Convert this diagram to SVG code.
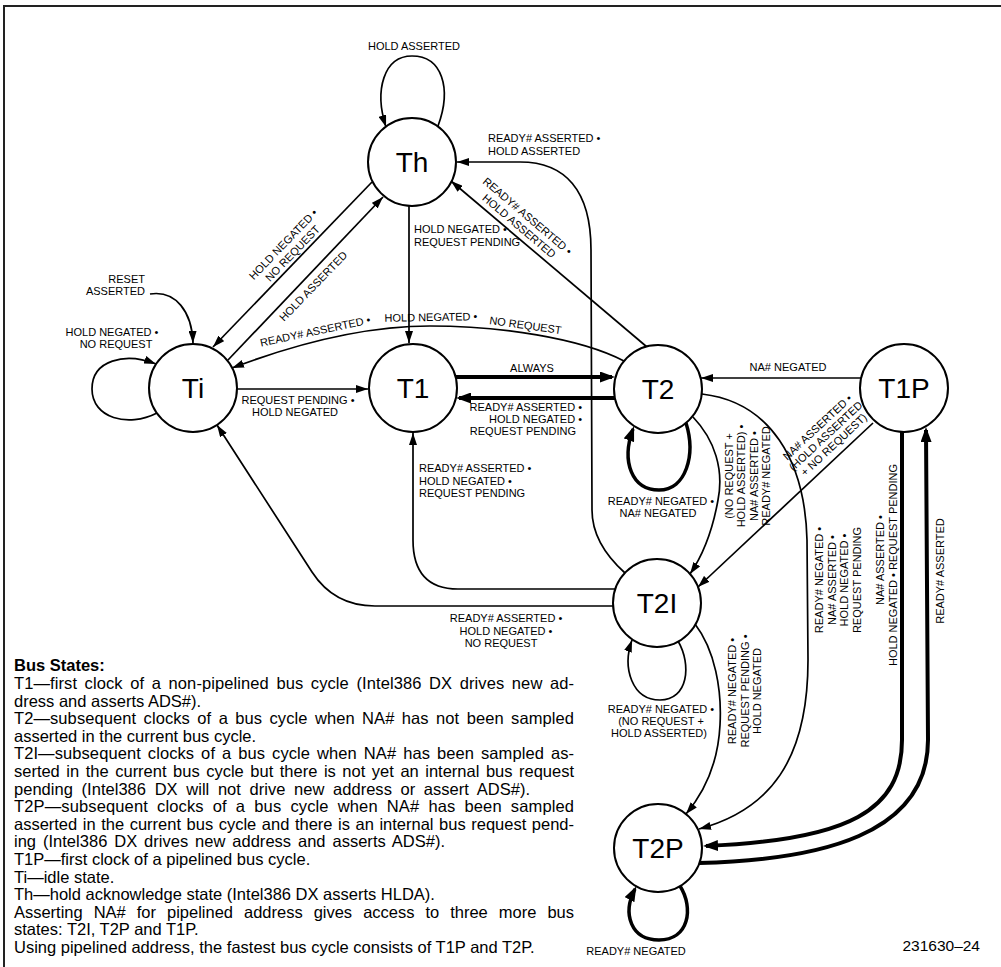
<svg xmlns="http://www.w3.org/2000/svg" width="1001" height="967" viewBox="0 0 1001 967">
<defs>
<style>
.nd circle{fill:#fff;stroke:#000;stroke-width:2}
.nd text{font-family:'Liberation Sans',Arial,sans-serif;font-size:28px;text-anchor:middle;fill:#000}
.e{fill:none;stroke:#000;stroke-width:1.7;marker-end:url(#a)}
.t{fill:none;stroke:#000;stroke-width:4;marker-end:url(#at)}
.l{font-family:'Liberation Sans',Arial,sans-serif;font-size:11px;fill:#000}
.m{text-anchor:middle}
.r{text-anchor:end}
.lg{font-family:'Liberation Sans',Arial,sans-serif;font-size:16.5px;fill:#000}
</style>
<marker id="a" viewBox="0 0 12 8" refX="12" refY="4" markerWidth="12" markerHeight="8" markerUnits="userSpaceOnUse" orient="auto"><path d="M0,0L12,4L0,8z" fill="#000"/></marker>
<marker id="at" viewBox="0 0 15 11" refX="12" refY="5.5" markerWidth="15" markerHeight="11" markerUnits="userSpaceOnUse" orient="auto"><path d="M0,0L15,5.5L0,11z" fill="#000"/></marker>
</defs>
<rect width="1001" height="967" fill="#fff"/>
<path d="M4,967V6H1001" fill="none" stroke="#222" stroke-width="2"/>

<g id="connectors">
<path class="e" d="M438,126C452,88 442,56 412,56C384,56 374,90 386,127"/>
<path class="e" d="M372,182L213,347"/>
<path class="e" d="M228,360L383,197"/>
<path class="e" d="M409,206L409,343"/>
<path class="e" d="M647,347L451,181"/>
<path class="e" d="M625,573C605,555 592,535 592,510L591,250C591,190 565,162 520,162L457,162"/>
<path class="e" d="M150,294C176,290 192,312 193,343"/>
<path class="e" d="M157,413C128,428 92,418 92,389C92,360 125,352 156,364"/>
<path class="e" d="M624,361C580,338 500,326 430,326C360,326 290,346 232,368"/>
<path class="e" d="M237,389L368,389"/>
<path class="t" d="M456,377L612,377"/>
<path class="t" d="M615,398L459,398"/>
<path class="t" style="stroke-width:3.5" d="M686,423C696,455 686,490 659,490C632,490 621,462 633,429"/>
<path class="e" d="M861,378L701,378"/>
<path class="e" d="M693,417C715,440 724,470 718,500C713,528 703,555 690,574"/>
<path class="e" d="M873,423L698,587"/>
<path class="e" d="M702,394C770,402 805,460 807,540L808,660C808,760 770,810 699,829"/>
<path class="t" d="M902,432L902,740C902,810 850,840 706,846"/>
<path class="t" d="M699,863C820,860 928,835 928,740L926,430"/>
<path class="e" d="M615,589L458,589C428,589 413,572 413,540L413,433"/>
<path class="e" d="M613,606L375,606C345,606 325,592 312,572L217,425"/>
<path class="e" d="M678,641C692,665 688,700 660,700C632,700 622,668 632,640"/>
<path class="e" d="M695,624C715,650 722,690 720,725C718,765 702,795 686,814"/>
<path class="t" style="stroke-width:3.5" d="M680,886C694,908 689,940 659,940C631,940 622,914 635,889"/>
</g>

<g id="node-Th" class="nd"><circle cx="412" cy="162" r="44"/><text x="412" y="172">Th</text></g>
<g id="node-Ti" class="nd"><circle cx="193" cy="388" r="44"/><text x="193" y="398">Ti</text></g>
<g id="node-T1" class="nd"><circle cx="413" cy="388" r="44"/><text x="413" y="398">T1</text></g>
<g id="node-T2" class="nd"><circle cx="658" cy="389" r="44"/><text x="658" y="399">T2</text></g>
<g id="node-T1P" class="nd"><circle cx="904" cy="388" r="44"/><text x="904" y="398">T1P</text></g>
<g id="node-T2I" class="nd"><circle cx="657" cy="603" r="44"/><text x="657" y="613">T2I</text></g>
<g id="node-T2P" class="nd"><circle cx="658" cy="848" r="44"/><text x="658" y="858">T2P</text></g>

<g id="labels">
<text class="l m" x="414" y="50">HOLD ASSERTED</text>
<text class="l" x="488" y="142">READY# ASSERTED •</text>
<text class="l" x="488" y="155">HOLD ASSERTED</text>
<text class="l m" transform="translate(286,247) rotate(-46)"><tspan x="0" y="0">HOLD NEGATED •</tspan><tspan x="0" y="13">NO REQUEST</tspan></text>
<text class="l m" transform="translate(316,289) rotate(-46)">HOLD ASSERTED</text>
<text class="l" x="414" y="233">HOLD NEGATED •</text>
<text class="l" x="414" y="246">REQUEST PENDING</text>
<text class="l m" transform="translate(525,219) rotate(40.3)"><tspan x="0" y="0">READY# ASSERTED •</tspan><tspan x="0" y="13">HOLD ASSERTED</tspan></text>
<text class="l r" x="145" y="283">RESET</text>
<text class="l r" x="145" y="295">ASSERTED</text>
<text class="l m" x="112" y="336">HOLD NEGATED •</text>
<text class="l m" x="116" y="348">NO REQUEST</text>
<text class="l m" transform="translate(316,335) rotate(-12)">READY# ASSERTED •</text>
<text class="l m" transform="translate(431,321) rotate(-1)">HOLD NEGATED •</text>
<text class="l m" transform="translate(525,329) rotate(8)">NO REQUEST</text>
<text class="l m" x="298" y="404">REQUEST PENDING •</text>
<text class="l m" x="295" y="416">HOLD NEGATED</text>
<text class="l m" x="532" y="372">ALWAYS</text>
<text class="l r" x="582" y="411">READY# ASSERTED •</text>
<text class="l r" x="582" y="423">HOLD NEGATED •</text>
<text class="l r" x="576" y="435">REQUEST PENDING</text>
<text class="l" x="419" y="472">READY# ASSERTED •</text>
<text class="l" x="419" y="485">HOLD NEGATED •</text>
<text class="l" x="419" y="497">REQUEST PENDING</text>
<text class="l m" x="661" y="505">READY# NEGATED •</text>
<text class="l m" x="658" y="517">NA# NEGATED</text>
<text class="l m" x="788" y="371">NA# NEGATED</text>
<text class="l m" transform="translate(733,476) rotate(-90)"><tspan x="0" y="0">(NO REQUEST +</tspan><tspan x="0" y="12.4">HOLD ASSERTED) •</tspan><tspan x="0" y="24.8">NA# ASSERTED •</tspan><tspan x="0" y="37.2">READY# NEGATED</tspan></text>
<text class="l m" transform="translate(820,430) rotate(-43)"><tspan x="0" y="0">NA# ASSERTED •</tspan><tspan x="0" y="12">(HOLD ASSERTED</tspan><tspan x="0" y="24">+ NO REQUEST)</tspan></text>
<text class="l m" transform="translate(823,580) rotate(-90)"><tspan x="0" y="0">READY# NEGATED •</tspan><tspan x="0" y="12.6">NA# ASSERTED •</tspan><tspan x="0" y="25.2">HOLD NEGATED •</tspan><tspan x="0" y="37.8">REQUEST PENDING</tspan></text>
<text class="l m" transform="translate(884,560) rotate(-90)">NA# ASSERTED •</text>
<text class="l m" transform="translate(897,565) rotate(-90)">HOLD NEGATED • REQUEST PENDING</text>
<text class="l m" transform="translate(944,571) rotate(-90)">READY# ASSERTED</text>
<text class="l m" x="506" y="622">READY# ASSERTED •</text>
<text class="l m" x="506" y="635">HOLD NEGATED •</text>
<text class="l m" x="501" y="647">NO REQUEST</text>
<text class="l m" x="661" y="713">READY# NEGATED •</text>
<text class="l m" x="661" y="725">(NO REQUEST +</text>
<text class="l m" x="659" y="737">HOLD ASSERTED)</text>
<text class="l m" transform="translate(736,691) rotate(-90)"><tspan x="0" y="0">READY# NEGATED •</tspan><tspan x="0" y="12.5">REQUEST PENDING •</tspan><tspan x="0" y="25">HOLD NEGATED</tspan></text>
<text class="l m" x="636" y="955">READY# NEGATED</text>
</g>

<g id="legend" class="lg">
<text x="14" y="671" font-weight="bold">Bus States:</text>
<text x="14" y="689" style="word-spacing:2.9px" textLength="560" lengthAdjust="spacing">T1—first clock of a non-pipelined bus cycle (Intel386 DX drives new ad-</text>
<text x="14" y="706.6">dress and asserts ADS#).</text>
<text x="14" y="724.2" style="word-spacing:2.7px" textLength="560" lengthAdjust="spacing">T2—subsequent clocks of a bus cycle when NA# has not been sampled</text>
<text x="14" y="741.8">asserted in the current bus cycle.</text>
<text x="14" y="759.4" style="word-spacing:2.3px" textLength="560" lengthAdjust="spacing">T2I—subsequent clocks of a bus cycle when NA# has been sampled as-</text>
<text x="14" y="777" style="word-spacing:2px" textLength="560" lengthAdjust="spacing">serted in the current bus cycle but there is not yet an internal bus request</text>
<text x="14" y="794.6" style="word-spacing:4px" textLength="516" lengthAdjust="spacing">pending (Intel386 DX will not drive new address or assert ADS#).</text>
<text x="14" y="812.2" style="word-spacing:4.4px" textLength="560" lengthAdjust="spacing">T2P—subsequent clocks of a bus cycle when NA# has been sampled</text>
<text x="14" y="829.8" style="word-spacing:1px" textLength="560" lengthAdjust="spacing">asserted in the current bus cycle and there is an internal bus request pend-</text>
<text x="14" y="847.4" style="word-spacing:2.3px" textLength="431" lengthAdjust="spacing">ing (Intel386 DX drives new address and asserts ADS#).</text>
<text x="14" y="865">T1P—first clock of a pipelined bus cycle.</text>
<text x="14" y="882.6">Ti—idle state.</text>
<text x="14" y="900.2">Th—hold acknowledge state (Intel386 DX asserts HLDA).</text>
<text x="14" y="917.8" style="word-spacing:6.5px" textLength="560" lengthAdjust="spacing">Asserting NA# for pipelined address gives access to three more bus</text>
<text x="14" y="935.4">states: T2I, T2P and T1P.</text>
<text x="14" y="953">Using pipelined address, the fastest bus cycle consists of T1P and T2P.</text>
</g>
<text class="lg r" x="980" y="951" style="font-size:15.5px">231630–24</text>
</svg>
